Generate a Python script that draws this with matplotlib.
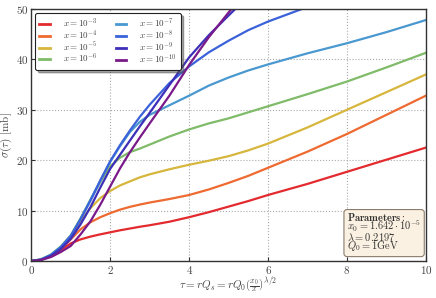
import matplotlib
matplotlib.use('Agg')
import matplotlib.pyplot as plt

plt.rcParams['mathtext.fontset'] = 'cm'
plt.rcParams['font.family'] = 'serif'
plt.rcParams['font.serif'] = ['cmr10', 'DejaVu Serif']
plt.rcParams['axes.formatter.use_mathtext'] = True

tau = [0, 0.25, 0.5, 0.75, 1.0, 1.25, 1.5, 1.75, 2.0, 2.25, 2.5, 2.75, 3.0,
       3.5, 4.0, 4.5, 5.0, 5.5, 6.0, 7.0, 8.0, 9.0, 10.0]

sig_1e3 = [0, 0.28, 1.0, 2.2, 3.5, 4.3, 4.85, 5.3, 5.7, 6.1, 6.45, 6.8, 7.1,
           7.8, 8.7, 9.7, 10.8, 11.9, 13.1, 15.3, 17.7, 20.1, 22.5]
sig_1e4 = [0, 0.3, 1.1, 2.5, 4.3, 6.3, 7.7, 8.7, 9.5, 10.2, 10.75, 11.2, 11.6,
           12.3, 13.1, 14.2, 15.5, 16.9, 18.5, 21.7, 25.2, 29.0, 32.8]
sig_1e5 = [0, 0.3, 1.2, 2.7, 4.7, 8.0, 10.5, 12.5, 13.9, 15.0, 15.8, 16.6, 17.2,
           18.2, 19.1, 19.9, 20.8, 21.95, 23.3, 26.5, 30.0, 33.5, 37.0]
sig_1e6 = [0, 0.35, 1.3, 2.9, 5.1, 8.5, 12.2, 15.7, 18.8, 20.5, 21.6, 22.3, 23.1,
           24.7, 26.1, 27.3, 28.3, 29.5, 30.7, 33.1, 35.6, 38.4, 41.3]
sig_1e7 = [0, 0.33, 1.25, 2.85, 5.0, 8.4, 12.1, 16.0, 19.7, 22.8, 25.6, 27.6, 29.0,
           30.9, 32.8, 34.8, 36.4, 37.8, 39.0, 41.2, 43.2, 45.4, 47.8]
sig_1e8 = [0, 0.3, 1.2, 2.75, 5.0, 8.3, 12.0, 16.0, 19.8, 23.0, 25.9, 28.6, 31.0,
           35.3, 38.6, 41.4, 43.7, 45.8, 47.5, 50.4, 52.5, 54.5, 56.0]
sig_1e9 = [0, 0.25, 1.0, 2.4, 4.4, 7.3, 10.7, 14.6, 18.3, 21.1, 23.9, 26.7, 29.4,
           34.9, 40.4, 44.8, 48.7, 52.5, 56.0, 62.0, 68.0, 73.0, 78.0]
sig_1e10 = [0, 0.2, 0.8, 1.8, 3.0, 5.3, 7.9, 11.2, 14.8, 18.4, 21.6, 24.5, 27.3,
            32.8, 38.9, 44.4, 49.3, 54.0, 58.5, 66.0, 73.0, 80.0, 86.0]

series = [sig_1e3, sig_1e4, sig_1e5, sig_1e6, sig_1e7, sig_1e8, sig_1e9, sig_1e10]
labels = [r'$x = 10^{-3}$', r'$x = 10^{-4}$', r'$x = 10^{-5}$', r'$x = 10^{-6}$',
          r'$x = 10^{-7}$', r'$x = 10^{-8}$', r'$x = 10^{-9}$', r'$x = 10^{-10}$']
colors = ['#e32a2e', '#ee6a30', '#d6b63c', '#7fbb68',
          '#4a98d0', '#3c62da', '#3d2fb8', '#7a1a8a']

fig = plt.figure(figsize=(4.36, 2.98), dpi=100)
ax = fig.add_axes([0.0718, 0.124, 0.905, 0.846])

for s, lab, c in zip(series, labels, colors):
    ax.plot(tau, s, color=c, lw=1.6, label=lab, solid_joinstyle='round')

ax.set_xlim(0, 10)
ax.set_ylim(0, 50)
ax.set_xticks([0, 2, 4, 6, 8, 10])
ax.set_yticks([0, 10, 20, 30, 40, 50])
ax.grid(True, color='#aaaaaa', linestyle=':', linewidth=0.8)
ax.tick_params(direction='in', labelsize=8, length=3, color='#333333',
               labelcolor='#444444', pad=2)
for sp in ax.spines.values():
    sp.set_color('#333333')
    sp.set_linewidth(1.0)

ax.set_xlabel(r'$\tau = rQ_s = rQ_0\left(\frac{x_0}{x}\right)^{\lambda/2}$',
              fontsize=8, color='#444444')
ax.set_ylabel(r'$\sigma(\tau)$ [mb]', fontsize=8, color='#444444')
ax.xaxis.set_label_coords(0.5, -0.058)
ax.yaxis.set_label_coords(-0.043, 0.5)

leg = ax.legend(loc='upper left', ncol=2, fontsize=6.5, frameon=True, shadow=True,
                fancybox=True, handlelength=1.2, handletextpad=1.4, columnspacing=2.0,
                labelspacing=-0.15, borderpad=0.45, borderaxespad=0.45)
leg.get_frame().set_edgecolor('#222222')
leg.get_frame().set_linewidth(0.8)
for t in leg.get_texts():
    t.set_color('#444444')
for h in leg.get_lines():
    h.set_linewidth(2.0)

ax.text(0.988, 0.03,
        r'$\mathbf{Parameters:}$' + '\n' + r'$x_0 = 1.642\cdot 10^{-5}$' + '\n'
        + r'$\lambda = 0.2197$' + '\n' + r'$Q_0 = 1\mathrm{GeV}$',
        transform=ax.transAxes, fontsize=7.5, color='#333333', va='bottom', ha='right',
        linespacing=0.68, multialignment='left',
        bbox=dict(boxstyle='round,pad=0.3', facecolor='#fbf1e2', edgecolor='#8a7d6e',
                  linewidth=0.8))

fig.savefig('out.png', dpi=100)
